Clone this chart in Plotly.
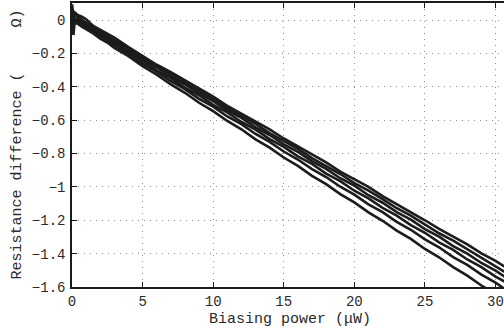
import plotly.graph_objects as go

# Biasing power samples (µW), shared by all sweeps
power_uw = [0, 0.1, 0.2, 0.4, 0.7, 1, 1.5, 2, 2.5, 3, 4, 5, 6, 7, 8, 9, 10,
            11, 12, 13, 14, 15, 16, 17, 18, 19, 20, 21, 22, 23, 24, 25, 26,
            27, 28, 29, 30, 31]

# Resistance difference for each sweep
sweep_1 = [0.095, 0.03, 0.045, 0.03, 0.02, 0.005, -0.035, -0.058, -0.078, -0.105,
           -0.162, -0.214, -0.268, -0.312, -0.36, -0.41, -0.459, -0.514, -0.562,
           -0.607, -0.656, -0.71, -0.759, -0.804, -0.853, -0.908, -0.952, -1.0,
           -1.055, -1.102, -1.148, -1.2, -1.252, -1.296, -1.345, -1.399, -1.444, -1.496]
sweep_2 = [0.06, -0.02, 0.03, 0.02, 0.005, -0.015, -0.045, -0.07, -0.092, -0.118,
           -0.172, -0.226, -0.273, -0.322, -0.377, -0.423, -0.472, -0.528, -0.574,
           -0.622, -0.678, -0.724, -0.772, -0.827, -0.873, -0.923, -0.978, -1.022,
           -1.073, -1.128, -1.172, -1.223, -1.278, -1.322, -1.373, -1.427, -1.473, -1.527]
sweep_3 = [0.04, -0.09, 0.0, 0.01, -0.01, -0.025, -0.052, -0.078, -0.1, -0.128,
           -0.18, -0.236, -0.283, -0.338, -0.385, -0.44, -0.486, -0.541, -0.587,
           -0.643, -0.689, -0.745, -0.79, -0.846, -0.892, -0.948, -0.993, -1.05,
           -1.095, -1.151, -1.196, -1.253, -1.298, -1.355, -1.4, -1.456, -1.502, -1.558]
sweep_4 = [0.02, 0.0, -0.01, -0.005, -0.02, -0.036, -0.062, -0.088, -0.114, -0.14,
           -0.194, -0.245, -0.302, -0.348, -0.405, -0.451, -0.508, -0.554, -0.611,
           -0.657, -0.714, -0.76, -0.817, -0.862, -0.92, -0.966, -1.023, -1.069,
           -1.126, -1.172, -1.229, -1.275, -1.332, -1.378, -1.435, -1.481, -1.538, -1.584]
sweep_5 = [0.0, 0.01, -0.02, -0.012, -0.03, -0.045, -0.072, -0.097, -0.124, -0.151,
           -0.203, -0.261, -0.309, -0.367, -0.414, -0.472, -0.519, -0.578, -0.624,
           -0.683, -0.73, -0.788, -0.836, -0.893, -0.941, -0.999, -1.046, -1.105,
           -1.151, -1.21, -1.257, -1.315, -1.362, -1.421, -1.468, -1.526, -1.574, -1.632]
sweep_6 = [-0.01, -0.03, -0.015, -0.022, -0.04, -0.056, -0.08, -0.112, -0.135, -0.167,
           -0.217, -0.277, -0.327, -0.386, -0.436, -0.496, -0.546, -0.605, -0.655,
           -0.715, -0.765, -0.824, -0.874, -0.934, -0.984, -1.043, -1.093, -1.153,
           -1.203, -1.262, -1.312, -1.372, -1.422, -1.481, -1.532, -1.591, -1.641, -1.7]

sweeps = [sweep_1, sweep_2, sweep_3, sweep_4, sweep_5, sweep_6]

x_ticks = [0, 5, 10, 15, 20, 25, 30]
y_ticks = [-1.6, -1.4, -1.2, -1.0, -0.8, -0.6, -0.4, -0.2, 0.0]
y_tick_text = ["\u22121.6", "\u22121.4", "\u22121.2", "\u22121", "\u22120.8",
               "\u22120.6", "\u22120.4", "\u22120.2", "0"]

FONT = "Liberation Mono, Courier New, monospace"
TEXT_COLOR = "#2a2a2a"
TICK_FS = 14
TITLE_FS = 15

fig = go.Figure()
for s in sweeps:
    fig.add_trace(go.Scatter(
        x=power_uw, y=s, mode="lines",
        line=dict(color="#1c1c1c", width=2.6),
        showlegend=False, hoverinfo="skip",
    ))

axis_common = dict(
    showline=True, linecolor="#1a1a1a", linewidth=1.5,
    ticks="inside", ticklen=5, tickcolor="#1a1a1a", tickwidth=1,
    showgrid=True, gridcolor="#8c8c8c", griddash="1px,5px", gridwidth=1,
    zeroline=False,
    tickfont=dict(family=FONT, size=TICK_FS, color=TEXT_COLOR),
)

fig.update_layout(
    width=504, height=330,
    margin=dict(l=72, r=0, t=3, b=43),
    paper_bgcolor="white", plot_bgcolor="white",
    xaxis=dict(range=[0, 30.6], tickvals=x_ticks, mirror="ticks",
               ticklabelstandoff=0, **axis_common),
    yaxis=dict(range=[-1.6, 0.102], tickvals=y_ticks, ticktext=y_tick_text,
               mirror=False, ticklabelstandoff=2, **axis_common),
    annotations=[
        dict(text="Biasing power (\u03bcW)", xref="paper", yref="paper",
             x=(289.5 - 72) / 432, y=-(319.5 - 287) / 284, xanchor="center",
             yanchor="middle", showarrow=False,
             font=dict(family=FONT, size=TITLE_FS, color=TEXT_COLOR)),
        dict(text="Resistance difference (\u00a0\u00a0\u00a0\u00a0\u00a0\u03a9)",
             xref="paper", yref="paper", textangle=-90,
             x=-(72 - 16.5) / 432, y=0.5, xanchor="center", yanchor="middle",
             showarrow=False, font=dict(family=FONT, size=TITLE_FS, color=TEXT_COLOR)),
    ],
)

fig.write_html("out.html")
